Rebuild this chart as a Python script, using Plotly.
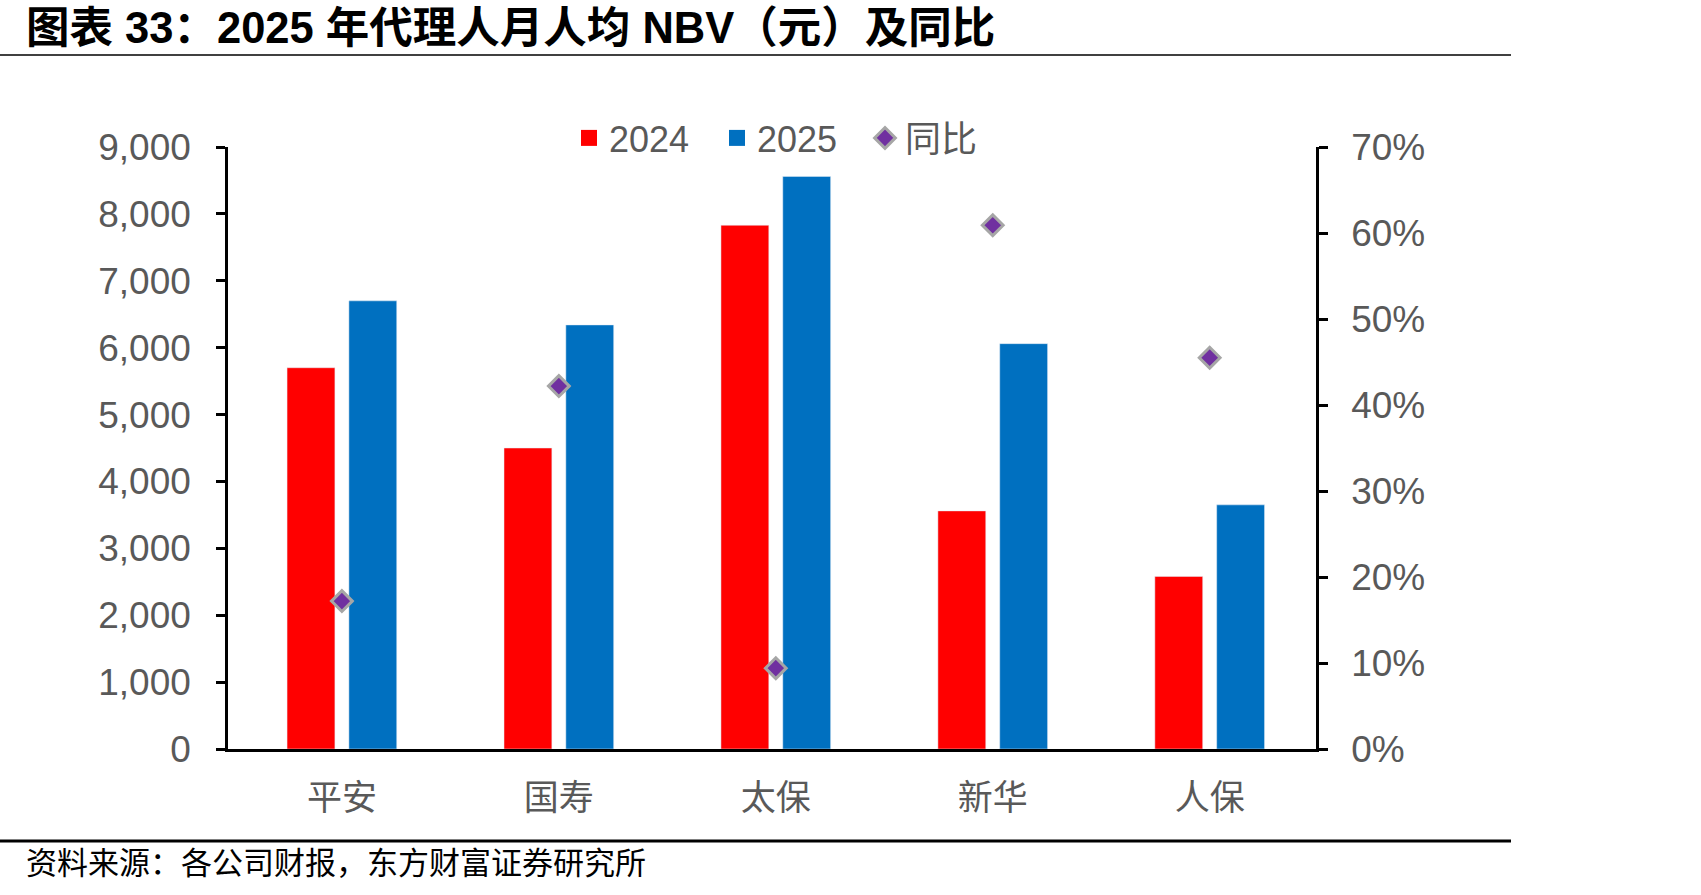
import plotly.graph_objects as go

categories = ["平安", "国寿", "太保", "新华", "人保"]
nbv_2024 = [5700, 4500, 7830, 3560, 2580]
nbv_2025 = [6700, 6340, 8560, 6060, 3650]
yoy = [0.172, 0.422, 0.094, 0.609, 0.455]

W, H = 1701, 895
ML, MR, MT, MB = 228, 385, 147, 146
PW = W - ML - MR
PH = H - MT - MB

def px_x(p):
    return (p - ML) / PW

def px_y(p):
    return (H - MB - p) / PH

LAT = "Liberation Sans, Arial, Noto Sans CJK SC"
CJK = "Noto Sans CJK SC"
GRAY = "#595959"
DIAMOND = dict(symbol="diamond", size=16, color="#7030A0",
               line=dict(color="#A6A6A6", width=3))

fig = go.Figure()
fig.add_trace(go.Bar(x=categories, y=nbv_2024, name="2024", marker_color="#FF0000",
                     showlegend=False))
fig.add_trace(go.Bar(x=categories, y=nbv_2025, name="2025", marker_color="#0070C0",
                     showlegend=False))
fig.add_trace(go.Scatter(x=categories, y=yoy, name="同比", mode="markers", yaxis="y2",
                         marker=DIAMOND, showlegend=False))
# legend entries
fig.add_trace(go.Scatter(x=[None], y=[None], name="2024", mode="markers",
                         marker=dict(symbol="square", size=18, color="#FF0000")))
fig.add_trace(go.Scatter(x=[None], y=[None], name="2025", mode="markers",
                         marker=dict(symbol="square", size=18, color="#0070C0")))
fig.add_trace(go.Scatter(x=[None], y=[None], name="同比", mode="markers", yaxis="y2",
                         marker=DIAMOND))

fig.update_layout(
    width=W, height=H,
    margin=dict(l=ML, r=MR, t=MT, b=MB, autoexpand=False),
    paper_bgcolor="white", plot_bgcolor="white",
    barmode="group", bargap=0.43, bargroupgap=0.226,
    font=dict(family=LAT, color=GRAY, size=36),
    xaxis=dict(type="category", range=[-0.525, 4.49], showline=True, linecolor="black",
               linewidth=2.5, ticks="", showgrid=False, zeroline=False,
               tickfont=dict(family=CJK, size=35, color=GRAY), ticklabelstandoff=16),
    yaxis=dict(range=[0, 9000], dtick=1000, tickformat=",", showline=True,
               linecolor="black", linewidth=2.5, ticks="outside", ticklen=9,
               tickwidth=2.5, tickcolor="black", showgrid=False, zeroline=False,
               tickfont=dict(family=LAT, size=37, color=GRAY), ticklabelstandoff=18),
    yaxis2=dict(range=[0, 0.7], dtick=0.1, tickformat=".0%", overlaying="y",
                side="right", showline=True, linecolor="black", linewidth=2.5,
                ticks="outside", ticklen=9, tickwidth=2.5, tickcolor="black",
                showgrid=False, zeroline=False,
                tickfont=dict(family=LAT, size=37, color=GRAY), ticklabelstandoff=16),
    legend=dict(orientation="h", x=px_x(569), xanchor="left", y=px_y(138),
                yanchor="middle", font=dict(family=LAT, size=36, color=GRAY),
                bgcolor="rgba(0,0,0,0)", itemwidth=30, tracegroupgap=0,
                entrywidth=103),
    showlegend=True,
)

fig.add_annotation(text="<b>图表 33：2025 年代理人月人均 NBV（元）及同比</b>",
                   xref="paper", yref="paper", x=px_x(24), y=px_y(28),
                   xanchor="left", yanchor="middle", showarrow=False,
                   font=dict(family=LAT, size=43.5, color="black"))
fig.add_annotation(text="资料来源：各公司财报，东方财富证券研究所",
                   xref="paper", yref="paper", x=px_x(24), y=px_y(861),
                   xanchor="left", yanchor="middle", showarrow=False,
                   font=dict(family=CJK, size=31, color="black"))

fig.add_shape(type="line", xref="paper", yref="paper", x0=px_x(0), x1=px_x(1511),
              y0=px_y(55), y1=px_y(55), line=dict(color="black", width=1.5))
fig.add_shape(type="line", xref="paper", yref="paper", x0=px_x(0), x1=px_x(1511),
              y0=px_y(841), y1=px_y(841), line=dict(color="black", width=3))

fig.write_html("out.html")
